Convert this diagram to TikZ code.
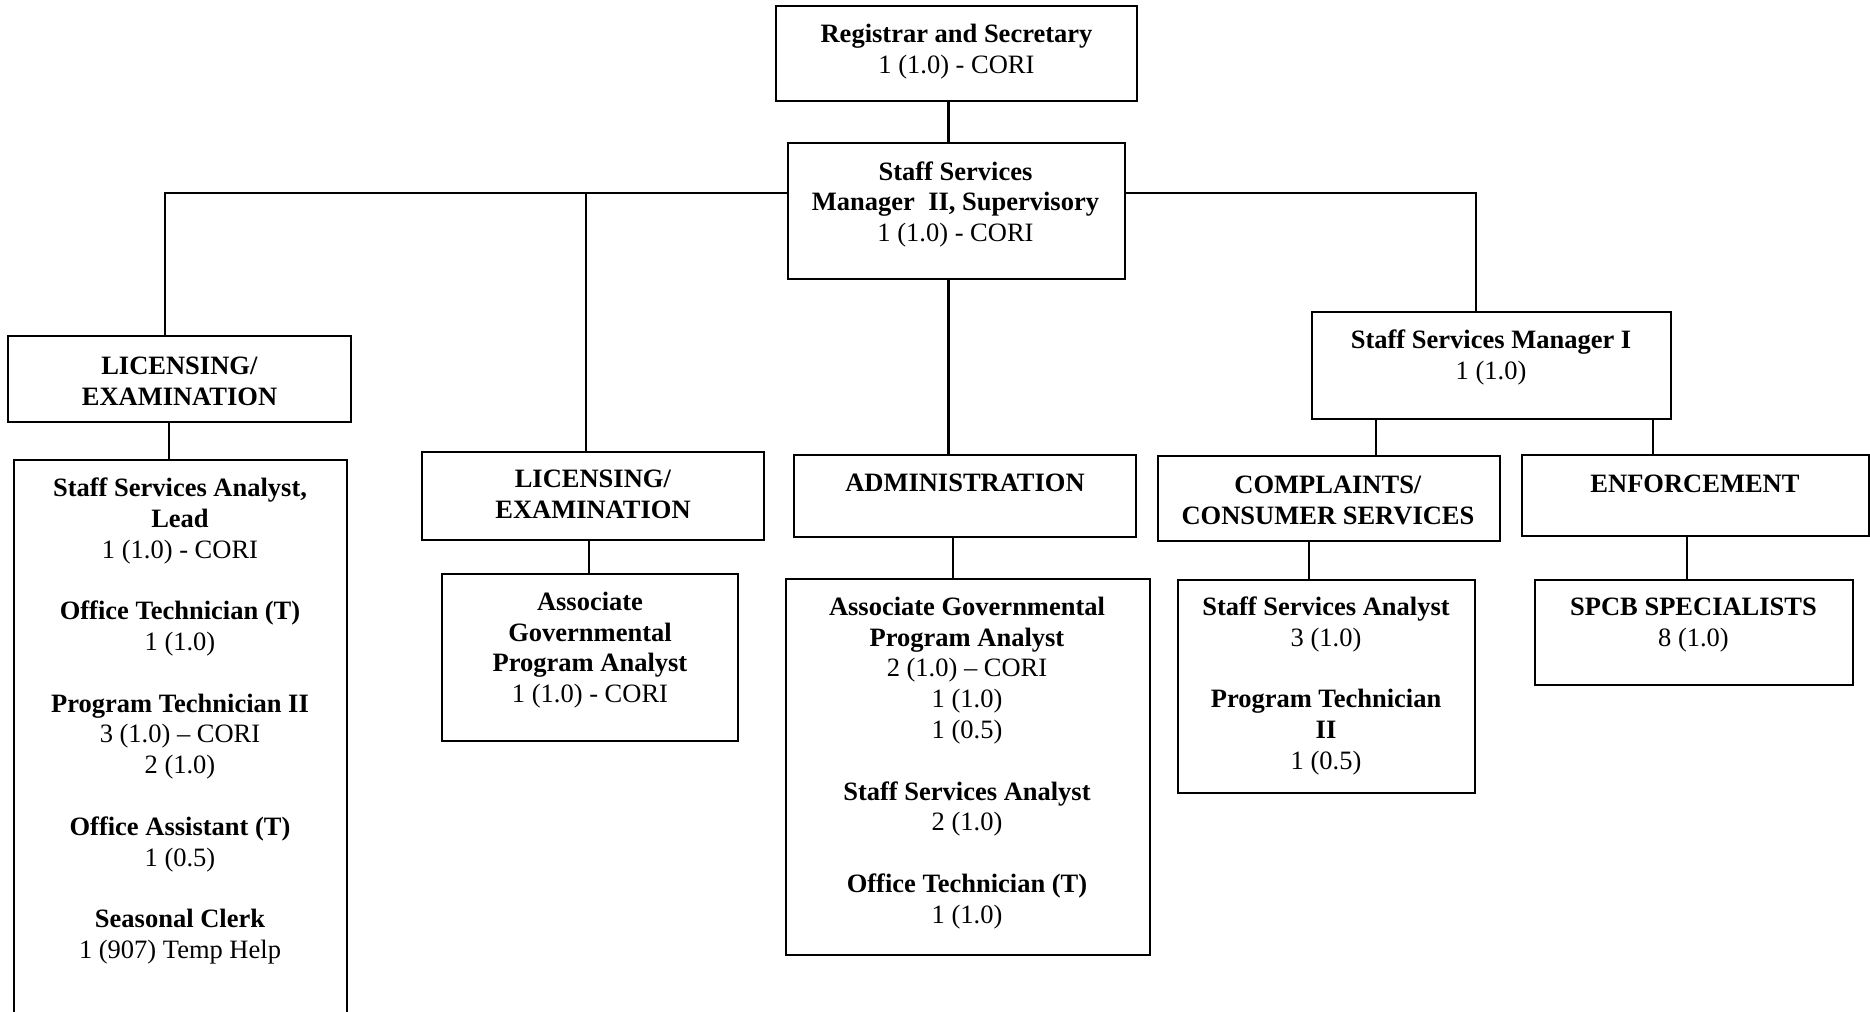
\documentclass[tikz,border=0pt]{standalone}
\usepackage{fontspec}
\setmainfont{Liberation Serif}
\begin{document}
\begin{tikzpicture}[x=0.5pt,y=-0.5pt,
  box/.style={draw, line width=1.1pt, rectangle, inner sep=0pt, outer sep=0pt, anchor=north west},
  txt/.style={align=center, inner sep=0pt, anchor=north, font=\fontsize{13.25}{15.4}\selectfont, execute at begin node=\strut},
  conn/.style={line width=1.1pt}]
\useasboundingbox (0,0) rectangle (1870,1012);
\clip (0,0) rectangle (1870,1012);

% boxes
\node[box, minimum width=180.5pt, minimum height=47.5pt] (reg) at (776,6) {};
\node[box, minimum width=168.5pt, minimum height=68pt] (ssm2) at (788,143) {};
\node[box, minimum width=171.5pt, minimum height=43pt] (lic1) at (8,336) {};
\node[box, minimum width=166.5pt, minimum height=285pt] (big) at (14,460) {};
\node[box, minimum width=171pt, minimum height=44pt] (lic2) at (422,452) {};
\node[box, minimum width=148pt, minimum height=83.5pt] (assoc) at (442,574) {};
\node[box, minimum width=171pt, minimum height=41pt] (admin) at (794,455) {};
\node[box, minimum width=182pt, minimum height=188pt] (admdet) at (786,579) {};
\node[box, minimum width=179.5pt, minimum height=53.5pt] (ssm1) at (1312,312) {};
\node[box, minimum width=171pt, minimum height=42.5pt] (compl) at (1158,456) {};
\node[box, minimum width=173.5pt, minimum height=40.5pt] (enf) at (1522,455) {};
\node[box, minimum width=148.5pt, minimum height=106.5pt] (compdet) at (1178,580) {};
\node[box, minimum width=159pt, minimum height=52.5pt] (spcb) at (1535,580) {};

% texts
\node[txt] (treg) at (956.5,23.5) {\textbf{Registrar and Secretary}\\1 (1.0) - CORI};
\node[txt] (tssm2) at (955.5,161) {\textbf{Staff Services}\\\textbf{Manager\ \ II, Supervisory}\\1 (1.0) - CORI};
\node[txt] (tlic1) at (179.5,357) {\textbf{LICENSING/}\\\textbf{EXAMINATION}};
\node[txt] (tbig) at (180,477.5) {\textbf{Staff Services Analyst,}\\\textbf{Lead}\\1 (1.0) - CORI\\[15.4pt]
  \textbf{Office Technician (T)}\\1 (1.0)\\[15.4pt]
  \textbf{Program Technician II}\\3 (1.0) – CORI\\2 (1.0)\\[15.4pt]
  \textbf{Office Assistant (T)}\\1 (0.5)\\[15.4pt]
  \textbf{Seasonal Clerk}\\1 (907) Temp Help};
\node[txt] (tlic2) at (593,470) {\textbf{LICENSING/}\\\textbf{EXAMINATION}};
\node[txt] (tassoc) at (590,591.5) {\textbf{Associate}\\\textbf{Governmental}\\\textbf{Program Analyst}\\1 (1.0) - CORI};
\node[txt] (tadmin) at (965,470) {\textbf{ADMINISTRATION}};
\node[txt] (tadmdet) at (967,596.5) {\textbf{Associate Governmental}\\\textbf{Program Analyst}\\2 (1.0) – CORI\\1 (1.0)\\1 (0.5)\\[15.4pt]
  \textbf{Staff Services Analyst}\\2 (1.0)\\[15.4pt]
  \textbf{Office Technician (T)}\\1 (1.0)};
\node[txt] (tssm1) at (1491,329.5) {\textbf{Staff Services Manager I}\\1 (1.0)};
\node[txt] (tcompl) at (1328,476) {\textbf{COMPLAINTS/}\\\textbf{CONSUMER SERVICES}};
\node[txt] (tenf) at (1695,470.5) {\textbf{ENFORCEMENT}};
\node[txt] (tcompdet) at (1326,596.5) {\textbf{Staff Services Analyst}\\3 (1.0)\\[15.4pt]
  \textbf{Program Technician}\\\textbf{II}\\1 (0.5)};
\node[txt] (tspcb) at (1693.5,597.5) {\textbf{SPCB SPECIALISTS}\\8 (1.0)};

% junction / column coordinates
\coordinate (j1) at (165,193);
\coordinate (j2) at (586,193);
\coordinate (j3) at (1476,193);
\coordinate (xreg) at (948.5,0);
\coordinate (xlic1) at (169,0);
\coordinate (xlic2) at (589,0);
\coordinate (xadm) at (953,0);
\coordinate (xc1) at (1376,0);
\coordinate (xe1) at (1653,0);
\coordinate (xc2) at (1309,0);
\coordinate (xe2) at (1687,0);

% connectors
\draw[conn] (reg.south -| xreg) -- (ssm2.north -| xreg);
\draw[conn] (j1 -| ssm2.west) -- (j1) -- (j1 |- lic1.north);
\draw[conn] (j2) -- (j2 |- lic2.north);
\draw[conn] (j3 -| ssm2.east) -- (j3) -- (j3 |- ssm1.north);
\draw[conn] (ssm2.south -| xreg) -- (admin.north -| xreg);
\draw[conn] (lic1.south -| xlic1) -- (big.north -| xlic1);
\draw[conn] (lic2.south -| xlic2) -- (assoc.north -| xlic2);
\draw[conn] (admin.south -| xadm) -- (admdet.north -| xadm);
\draw[conn] (ssm1.south -| xc1) -- (compl.north -| xc1);
\draw[conn] (ssm1.south -| xe1) -- (enf.north -| xe1);
\draw[conn] (compl.south -| xc2) -- (compdet.north -| xc2);
\draw[conn] (enf.south -| xe2) -- (spcb.north -| xe2);
\end{tikzpicture}
\end{document}
